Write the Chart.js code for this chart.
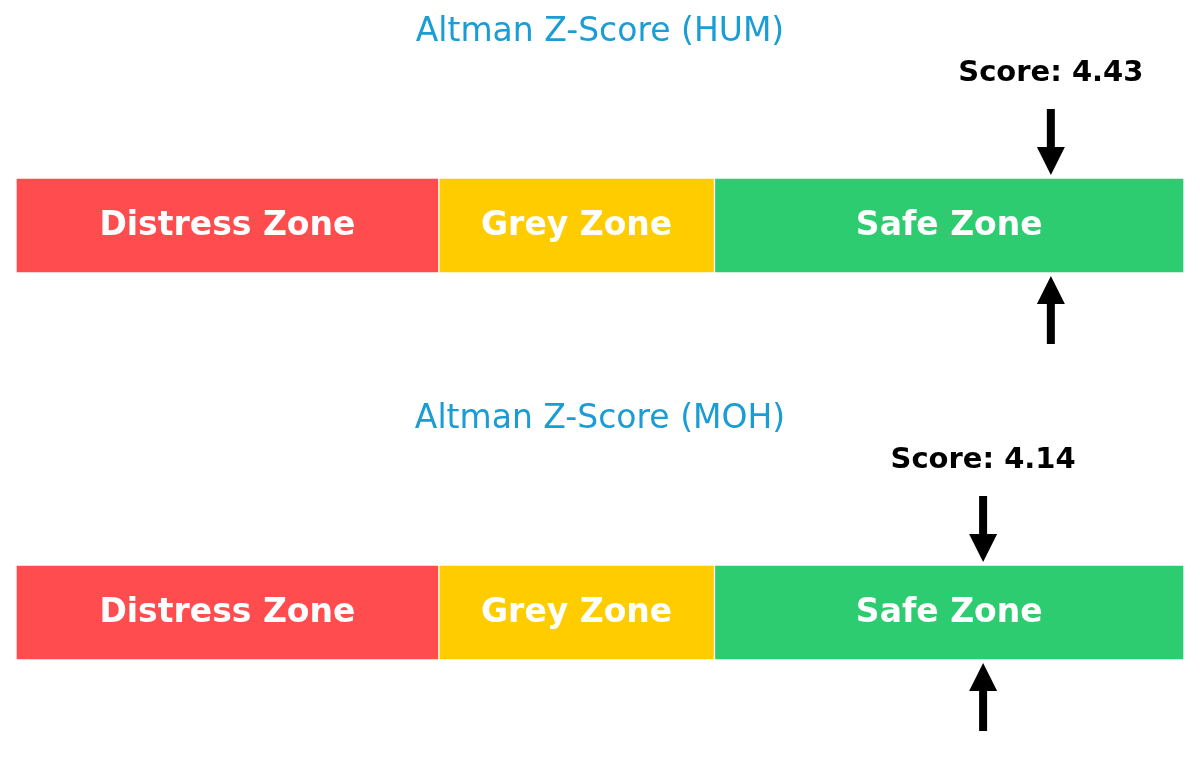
<!DOCTYPE html>
<html>
<head>
<meta charset="utf-8">
<script src="https://cdn.jsdelivr.net/npm/chart.js@4.4.1/dist/chart.umd.min.js"></script>
<style>
html,body{margin:0;padding:0;background:#fff;}
.panel{position:relative;width:1200px;height:387px;}
</style>
</head>
<body>
<div class="panel"><canvas id="c0"></canvas></div>
<div class="panel"><canvas id="c1"></canvas></div>
<script>
const tickers = ['HUM', 'MOH'];
const scores = [4.43, 4.14];
const zoneLabels = ['Distress Zone', 'Grey Zone', 'Safe Zone'];
const zoneStarts = [0, 1.81, 2.99];
const zoneEnds = [1.81, 2.99, 5];
const zoneColors = ['#FF4D4F', '#FFCC00', '#2ECC71'];
const axisMin = 0;
const axisMax = 5;

const FONT = '"DejaVu Sans", sans-serif';

function drawArrow(ctx, x, yTail, yTip) {
  const dir = yTip > yTail ? 1 : -1;
  const headLen = 28, headHalf = 14, shaftHalf = 4;
  const yHeadBase = yTip - dir * headLen;
  ctx.fillStyle = '#000';
  ctx.fillRect(x - shaftHalf, Math.min(yTail, yHeadBase), shaftHalf * 2, Math.abs(yHeadBase - yTail) + 1);
  ctx.beginPath();
  ctx.moveTo(x - headHalf, yHeadBase);
  ctx.lineTo(x + headHalf, yHeadBase);
  ctx.lineTo(x, yTip);
  ctx.closePath();
  ctx.fill();
}

const overlay = {
  id: 'overlay',
  afterDraw(chart, args, opts) {
    const ctx = chart.ctx;
    const area = chart.chartArea;
    const xs = chart.scales.x;
    ctx.save();
    // zone labels
    ctx.fillStyle = '#ffffff';
    ctx.font = 'bold 33px ' + FONT;
    ctx.textAlign = 'center';
    ctx.textBaseline = 'middle';
    chart.data.datasets.forEach((ds, i) => {
      const el = chart.getDatasetMeta(i).data[0];
      ctx.fillText(ds.label, (el.x + el.base) / 2, (area.top + area.bottom) / 2 + 1);
    });
    // title
    ctx.fillStyle = '#1A9DD4';
    ctx.font = '33px ' + FONT;
    ctx.fillText('Altman Z-Score (' + opts.ticker + ')', chart.width / 2, 32);
    // score
    const px = xs.getPixelForValue(opts.score);
    ctx.fillStyle = '#000';
    ctx.font = 'bold 29px ' + FONT;
    ctx.fillText('Score: ' + opts.score.toFixed(2), px, 73);
    drawArrow(ctx, px, area.top - 69, area.top - 3);
    drawArrow(ctx, px, area.bottom + 70, area.bottom + 3);
    ctx.restore();
  }
};

function makeChart(idx) {
  const datasets = zoneLabels.map((lab, i) => ({
    label: lab,
    data: [[zoneStarts[i], zoneEnds[i]]],
    backgroundColor: zoneColors[i],
    borderColor: '#ffffff',
    borderWidth: 1,
    borderSkipped: false,
    grouped: false,
    barPercentage: 1,
    categoryPercentage: 1
  }));
  new Chart(document.getElementById('c' + idx), {
    type: 'bar',
    data: { labels: [tickers[idx]], datasets },
    options: {
      indexAxis: 'y',
      responsive: true,
      maintainAspectRatio: false,
      animation: false,
      layout: { padding: { left: 16, right: 16, top: 178, bottom: 114 } },
      scales: {
        x: { type: 'linear', min: axisMin, max: axisMax, display: false },
        y: { display: false }
      },
      plugins: {
        legend: { display: false },
        tooltip: { enabled: false },
        overlay: { ticker: tickers[idx], score: scores[idx] }
      }
    },
    plugins: [overlay]
  });
}
makeChart(0);
makeChart(1);
</script>
</body>
</html>
